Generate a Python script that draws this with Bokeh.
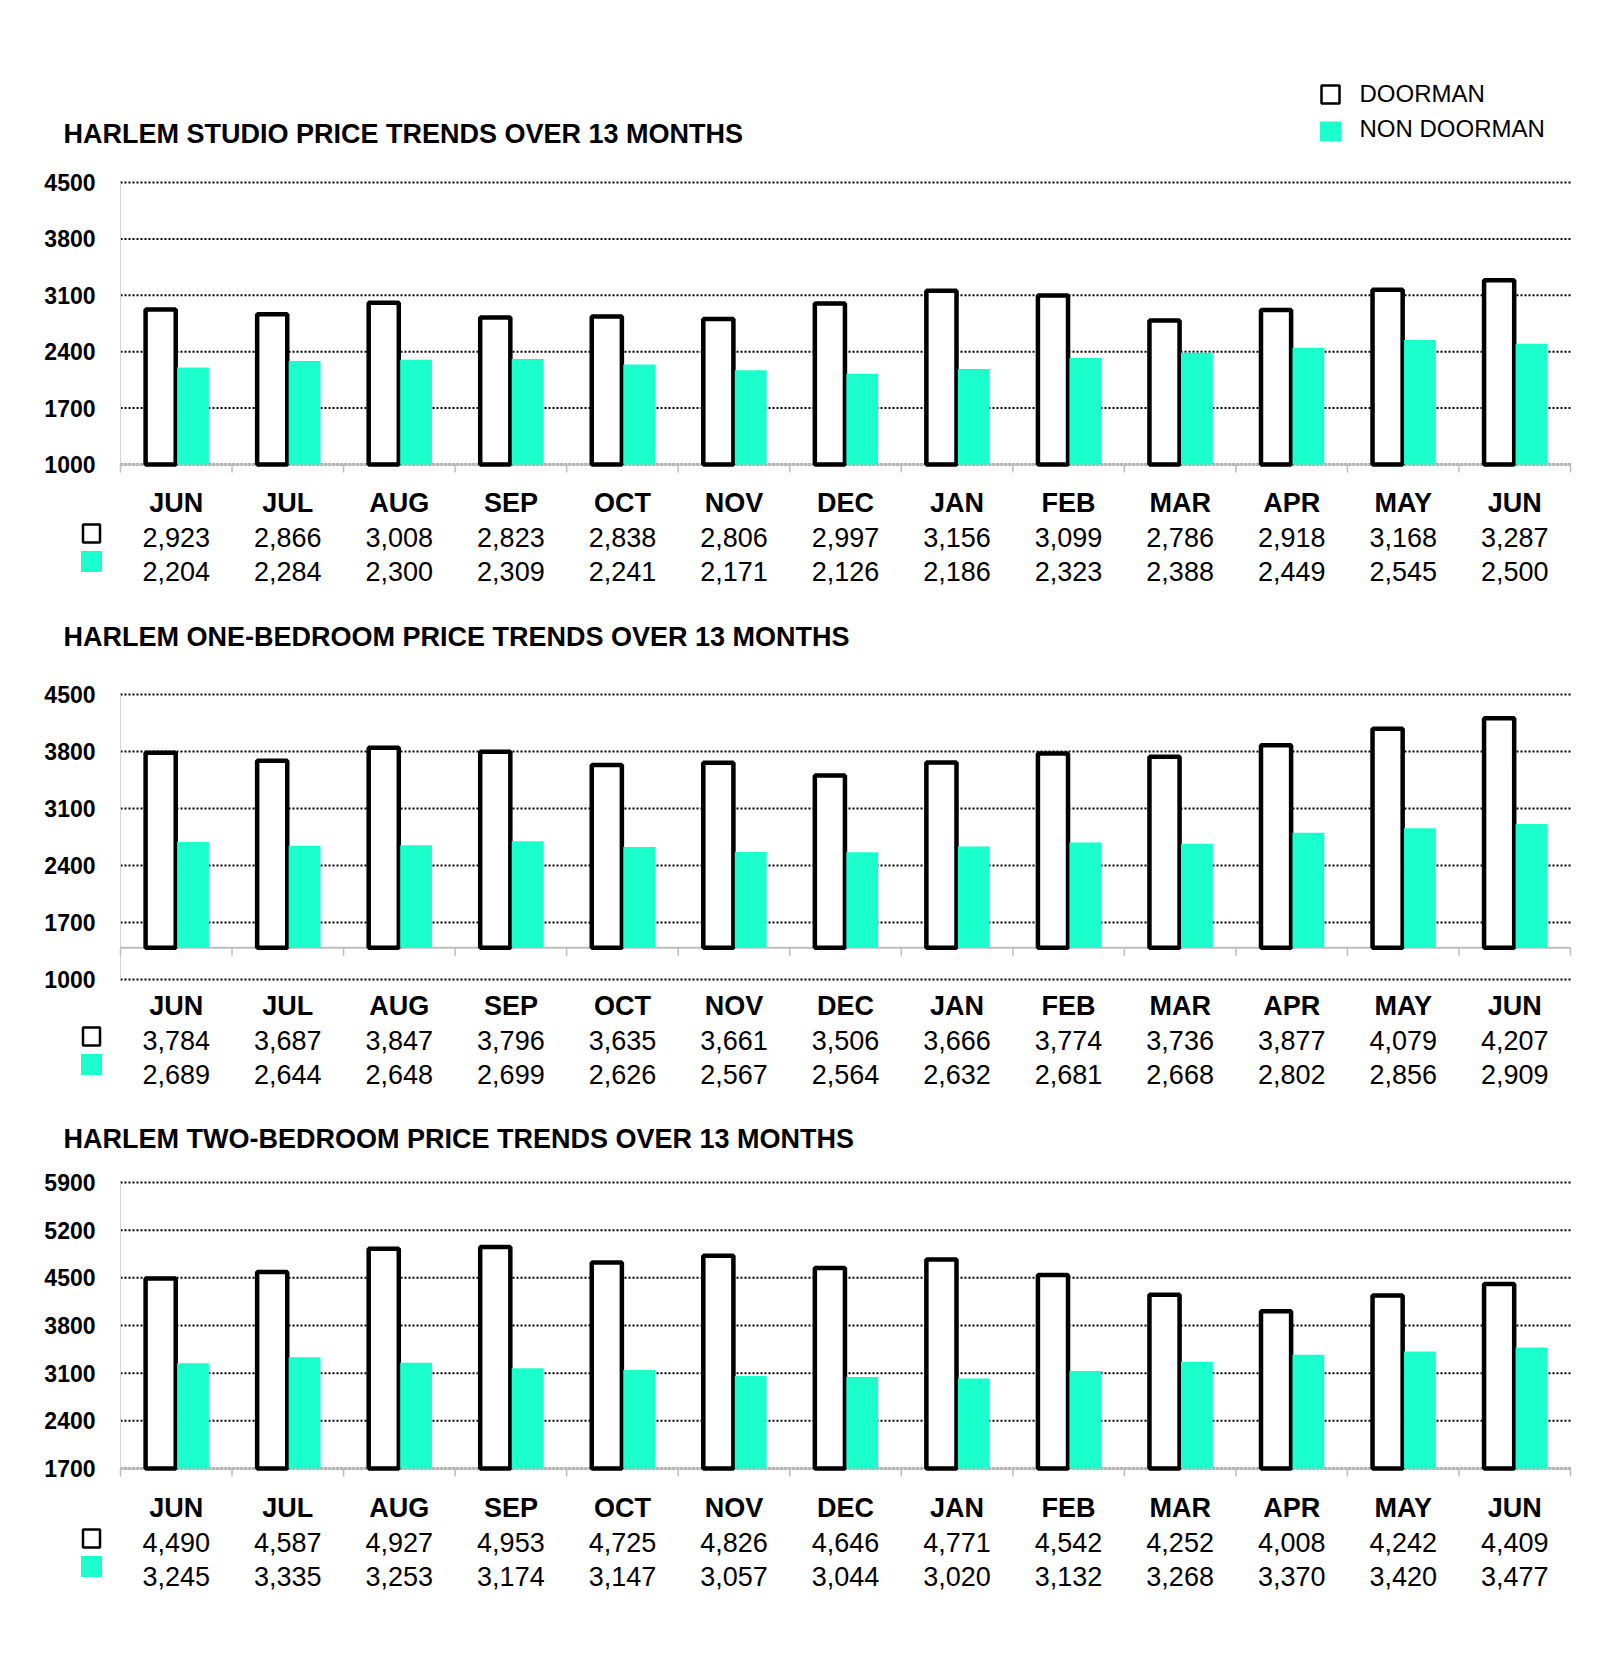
from bokeh.plotting import figure
from bokeh.layouts import column
from bokeh.models import Range1d
from bokeh.core.properties import value
from bokeh.embed import file_html
from bokeh.resources import INLINE

# ---------------- data ----------------
months = ["JUN", "JUL", "AUG", "SEP", "OCT", "NOV", "DEC",
          "JAN", "FEB", "MAR", "APR", "MAY", "JUN"]

studio_doorman = [2923, 2866, 3008, 2823, 2838, 2806, 2997, 3156, 3099, 2786, 2918, 3168, 3287]
studio_non_doorman = [2204, 2284, 2300, 2309, 2241, 2171, 2126, 2186, 2323, 2388, 2449, 2545, 2500]

one_bed_doorman = [3784, 3687, 3847, 3796, 3635, 3661, 3506, 3666, 3774, 3736, 3877, 4079, 4207]
one_bed_non_doorman = [2689, 2644, 2648, 2699, 2626, 2567, 2564, 2632, 2681, 2668, 2802, 2856, 2909]

two_bed_doorman = [4490, 4587, 4927, 4953, 4725, 4826, 4646, 4771, 4542, 4252, 4008, 4242, 4409]
two_bed_non_doorman = [3245, 3335, 3253, 3174, 3147, 3057, 3044, 3020, 3132, 3268, 3370, 3420, 3477]

studio_ticks = [1000, 1700, 2400, 3100, 3800, 4500]
one_bed_ticks = [1000, 1700, 2400, 3100, 3800, 4500]
two_bed_ticks = [1700, 2400, 3100, 3800, 4500, 5200, 5900]

titles = ["HARLEM STUDIO PRICE TRENDS OVER 13 MONTHS",
          "HARLEM ONE-BEDROOM PRICE TRENDS OVER 13 MONTHS",
          "HARLEM TWO-BEDROOM PRICE TRENDS OVER 13 MONTHS"]
series_names = ["DOORMAN", "NON DOORMAN"]

# ---------------- style ----------------
CYAN = "#1BFFCD"
FONT = value("Liberation Sans")
AXIS_GRAY = "#BDBDBD"
WIDTH = 1584
N = len(months)
CAT_PX = 111.54      # pixels per category
LEFT_PX = 120        # page x of the plot's left edge
ORIGIN = 0           # page offset of the layout


def px2x(px):
    return (px - LEFT_PX) / CAT_PX


charts = [
    dict(top=0, bottom=604, v0=1000, y0=464, s=282 / 3500, base=1000, vline_low=None,
         title_y=133, month_y=502, d=studio_doorman, n=studio_non_doorman,
         ticks=studio_ticks, title=titles[0], legend=True),
    dict(top=604, bottom=1110, v0=1000, y0=979, s=285 / 3500, base=1390, vline_low=1000,
         title_y=636, month_y=1005, d=one_bed_doorman, n=one_bed_non_doorman,
         ticks=one_bed_ticks, title=titles[1], legend=False),
    dict(top=1110, bottom=1650, v0=1700, y0=1468, s=286 / 4200, base=1700, vline_low=None,
         title_y=1138, month_y=1507, d=two_bed_doorman, n=two_bed_non_doorman,
         ticks=two_bed_ticks, title=titles[2], legend=False),
]

figs = []
for c in charts:
    v0, y0, s = c["v0"], c["y0"], c["s"]

    def pv(py, v0=v0, y0=y0, s=s):
        return v0 + (y0 - py) / s

    p = figure(width=WIDTH, height=c["bottom"] - c["top"],
               x_range=Range1d(px2x(ORIGIN), px2x(ORIGIN + WIDTH)),
               y_range=Range1d(pv(c["bottom"]), pv(c["top"])),
               output_backend="svg", toolbar_location=None,
               x_axis_location=None, y_axis_location=None,
               min_border=0, outline_line_color=None)
    p.xgrid.visible = False
    p.ygrid.visible = False
    p.background_fill_color = "white"
    p.border_fill_color = "white"

    ticks = c["ticks"]
    base = c["base"]
    tick_len = 8 / s

    # dotted gridlines
    p.segment(x0=[0] * len(ticks), x1=[N] * len(ticks), y0=ticks, y1=ticks,
              line_color="black", line_width=2, line_dash="2 2")

    # left axis line
    low = c["vline_low"] if c["vline_low"] is not None else base - tick_len
    p.segment(x0=[0], x1=[0], y0=[low], y1=[max(ticks)],
              line_color="#D4D4D4", line_width=1)

    # category axis with ticks
    p.segment(x0=[0], x1=[N], y0=[base], y1=[base], line_color=AXIS_GRAY, line_width=2)
    p.segment(x0=list(range(N + 1)), x1=list(range(N + 1)),
              y0=[base] * (N + 1), y1=[base - tick_len] * (N + 1),
              line_color=AXIS_GRAY, line_width=1.5)

    xs = [i + 0.5 for i in range(N)]
    # bars
    p.vbar(x=[x - 0.14 for x in xs], width=0.27, bottom=base, top=c["d"],
           fill_color="white", line_color="black", line_width=4.5)
    p.vbar(x=[x + 0.15 for x in xs], width=0.285, bottom=base, top=c["n"],
           fill_color=CYAN, line_color=None)

    # y tick labels
    p.text(x=[px2x(95)] * len(ticks), y=ticks, text=[str(t) for t in ticks],
           text_font=FONT, text_font_style="bold", text_font_size="23px",
           text_align="right", text_baseline="middle", text_color="black")

    # title
    p.text(x=[px2x(63)], y=[pv(c["title_y"])], text=[c["title"]],
           text_font=FONT, text_font_style="bold", text_font_size="27px",
           text_align="left", text_baseline="middle", text_color="black")

    # data table
    my = c["month_y"]
    p.text(x=xs, y=[pv(my)] * N, text=months, text_font=FONT, text_font_style="bold",
           text_font_size="27px", text_align="center", text_baseline="middle",
           text_color="black")
    p.text(x=xs, y=[pv(my + 35)] * N, text=[f"{v:,}" for v in c["d"]], text_font=FONT,
           text_font_size="27px", text_align="center", text_baseline="middle",
           text_color="black")
    p.text(x=xs, y=[pv(my + 69)] * N, text=[f"{v:,}" for v in c["n"]], text_font=FONT,
           text_font_size="27px", text_align="center", text_baseline="middle",
           text_color="black")
    p.rect(x=[px2x(91)], y=[pv(my + 31)], width=17, height=18,
           width_units="screen", height_units="screen",
           fill_color="white", line_color="black", line_width=2.5)
    p.rect(x=[px2x(91)], y=[pv(my + 59)], width=21, height=21,
           width_units="screen", height_units="screen",
           fill_color=CYAN, line_color=None)

    if c["legend"]:
        p.rect(x=[px2x(1330)], y=[pv(94)], width=18, height=18,
               width_units="screen", height_units="screen",
               fill_color="white", line_color="black", line_width=2.5)
        p.rect(x=[px2x(1330)], y=[pv(131)], width=21, height=20,
               width_units="screen", height_units="screen",
               fill_color=CYAN, line_color=None)
        p.text(x=[px2x(1359)] * 2, y=[pv(93), pv(128)], text=series_names,
               text_font=FONT, text_font_size="24px", text_align="left",
               text_baseline="middle", text_color="black")

    figs.append(p)

layout = column(*figs, spacing=0)
open("out.html", "w").write(file_html(layout, INLINE))
